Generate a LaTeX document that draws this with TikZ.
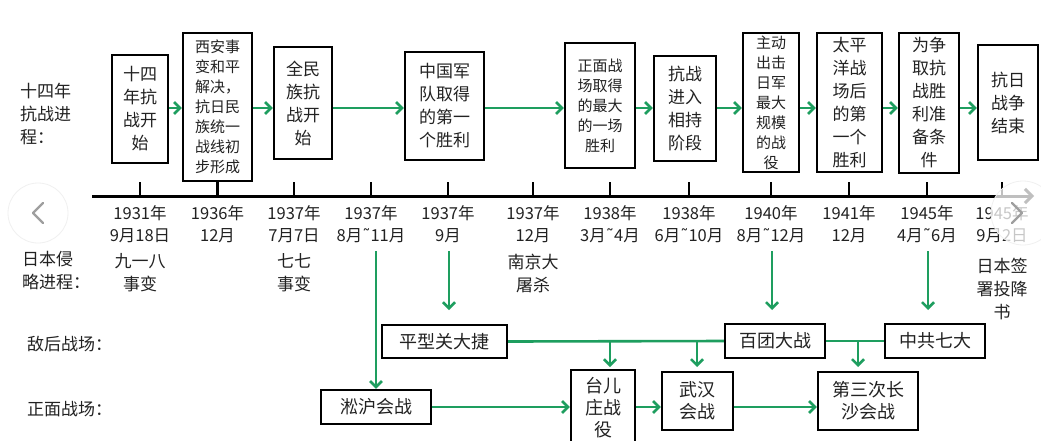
\documentclass[tikz,border=0pt]{standalone}
\usepackage{fontspec}
\setmainfont{Noto Sans CJK SC}
\newfontfamily\djvfont{DejaVu Sans}
\newcommand\mytld{{\djvfont ˜}}
\usetikzlibrary{arrows.meta}
\definecolor{gr}{RGB}{30,158,95}
\definecolor{ink}{RGB}{34,34,34}
\begin{document}
\begin{tikzpicture}[x=1pt,y=-1pt,
  box/.style={draw=black, line width=2.2pt, fill=white, align=center, inner sep=0pt, text=ink, font=\fontsize{17}{23}\selectfont},
  sbox/.style={box, font=\fontsize{15}{20}\selectfont},
  garrow/.style={draw=gr, line width=2.6pt, -{Straight Barb[length=6pt,width=12pt]}},
  gline/.style={draw=gr, line width=2.6pt},
  lbl/.style={text=ink, font=\fontsize{17}{23}\selectfont, align=left, inner sep=0pt},
  evt/.style={lbl, align=center},
  date/.style={text=ink, font=\fontsize{16.5}{22}\selectfont, align=center, inner sep=0pt},
  tick/.style={draw=black, line width=2.4pt},
  ovl/.style={fill=white, fill opacity=0.75, draw=gray!12, line width=0.8pt},
  chev/.style={draw=gray!75, line width=2.4pt, line cap=round, line join=round}
]
\useasboundingbox (0,0) rectangle (1041,440);
\clip (0,0) rectangle (1041,440);
\fill[white] (0,0) rectangle (1041,440);

% left labels
\node[lbl, anchor=west] (L1) at (20,114) {十四年\\抗战进\\程：};
\node[lbl, anchor=west] (L2) at (22,271) {日本侵\\略进程：};
\node[lbl, anchor=west] (L3) at (27,344) {敌后战场：};
\node[lbl, anchor=west] (L4) at (27,409) {正面战场：};

% top boxes
\node[box, minimum width=56, minimum height=108] (b1) at (140,109) {十四\\年抗\\战开\\始};
\node[sbox, minimum width=69, minimum height=148] (b2) at (217.5,107) {西安事\\变和平\\解决，\\抗日民\\族统一\\战线初\\步形成};
\node[box, minimum width=58, minimum height=112] (b3) at (303,103) {全民\\族抗\\战开\\始};
\node[box, minimum width=79, minimum height=108] (b4) at (444.5,106) {中国军\\队取得\\的第一\\个胜利};
\node[sbox, minimum width=70, minimum height=125] (b5) at (600,105.5) {正面战\\场取得\\的最大\\的一场\\胜利};
\node[box, minimum width=62, minimum height=105] (b6) at (685,108.5) {抗战\\进入\\相持\\阶段};
\node[sbox, minimum width=56, minimum height=139] (b7) at (771,102.5) {主动\\出击\\日军\\最大\\规模\\的战\\役};
\node[box, minimum width=65, minimum height=139] (b8) at (849.5,102.5) {太平\\洋战\\场后\\的第\\一个\\胜利};
\node[box, minimum width=60, minimum height=140] (b9) at (929,103) {为争\\取抗\\战胜\\利准\\备条\\件};
\node[box, minimum width=60, minimum height=115] (b10) at (1008,102.5) {抗日\\战争\\结束};

\coordinate (ay) at (0,108);
\foreach \a/\b in {b1/b2,b2/b3,b3/b4,b4/b5,b5/b6,b6/b7,b7/b8,b8/b9,b9/b10}
  \draw[garrow] (\a.east |- ay) -- (\b.west |- ay);

% timeline
\coordinate (tlA) at (92,196);
\coordinate (tlB) at (1034,196);
\draw[line width=3pt, -{Straight Barb[length=7pt,width=14pt]}] (tlA) -- (tlB);
\foreach \i/\x in {1/140,3/294,4/371,5/448,6/533,7/610,8/689,9/771,10/849,11/927,12/1002}
  \coordinate (t\i) at (\x,196);
\coordinate (t2) at (217.5,196);
\foreach \i in {1,3,4,5,6,7,8,9,10,11,12}
  \draw[tick] (t\i) -- ++(0,-14);
\draw[tick] (b2.south) -- (t2);

% dates
\node[date] (d1) at (140,224) {1931年\\9月18日};
\node[date] (d2) at (217.5,224) {1936年\\12月};
\node[date] (d3) at (294,224) {1937年\\7月7日};
\node[date] (d4) at (371,224) {1937年\\8月\mytld 11月};
\node[date] (d5) at (448,224) {1937年\\9月};
\node[date] (d6) at (533,224) {1937年\\12月};
\node[date] (d7) at (610,224) {1938年\\3月\mytld 4月};
\node[date] (d8) at (689,224) {1938年\\6月\mytld 10月};
\node[date] (d9) at (771,224) {1940年\\8月\mytld 12月};
\node[date] (d10) at (849,224) {1941年\\12月};
\node[date] (d11) at (927,224) {1945年\\4月\mytld 6月};
\node[date] (d12) at (1002,224) {1945年\\9月2日};

% aggression events
\node[evt] (e1) at (140,273) {九一八\\事变};
\node[evt] (e2) at (294,273) {七七\\事变};
\node[evt] (e3) at (533,273) {南京大\\屠杀};
\node[evt] (e4) at (1002,289) {日本签\\署投降\\书};

% battle boxes
\node[box, font=\fontsize{18}{23}\selectfont, minimum width=125, minimum height=33] (pxg) at (444.5,341.5) {平型关大捷};
\node[box, font=\fontsize{18}{23}\selectfont, minimum width=100, minimum height=34] (bt) at (775,341) {百团大战};
\node[box, font=\fontsize{18}{23}\selectfont, minimum width=100, minimum height=34] (zg) at (935,341) {中共七大};
\node[box, font=\fontsize{18}{23}\selectfont, minimum width=110, minimum height=34] (sh) at (376,407) {淞沪会战};
\node[box, font=\fontsize{18}{22}\selectfont, minimum width=64, minimum height=76] (te) at (603,408) {台儿\\庄战\\役};
\node[box, font=\fontsize{18}{22}\selectfont, minimum width=71, minimum height=58] (wh) at (697.5,401) {武汉\\会战};
\node[box, font=\fontsize{18}{22}\selectfont, minimum width=100, minimum height=58] (cs) at (868,401) {第三次长\\沙会战};

% vertical green arrows from timeline
\coordinate (v1s) at (376,251);
\draw[garrow] (v1s) -- (sh.north);
\coordinate (v2s) at (449,251); \coordinate (v2e) at (449,310);
\draw[garrow] (v2s) -- (v2e);
\coordinate (v3s) at (772,251); \coordinate (v3e) at (772,310);
\draw[garrow] (v3s) -- (v3e);
\coordinate (v4s) at (928,251); \coordinate (v4e) at (928,310);
\draw[garrow] (v4s) -- (v4e);

% enemy-rear line
\draw[gline] (pxg.east) -- (bt.west);
\draw[gline] (bt.east) -- (zg.west);
\foreach \n/\x in {s1/610,s2/697,s3/858}{
  \coordinate (\n s) at (\x,342);
  \coordinate (\n e) at (\x,367);
  \draw[garrow] (\n s) -- (\n e);
}

% front line
\coordinate (fy) at (0,407);
\draw[garrow] (sh.east) -- (sh.east -| te.west);
\draw[garrow] (te.east |- fy) -- (wh.west |- fy);
\draw[garrow] (wh.east |- fy) -- (cs.west |- fy);

% overlay UI
\draw[ovl] (38,213) circle (30);
\draw[chev] (43,203) -- (33,213) -- (43,223);
\draw[ovl] (1023,213) circle (32);
\draw[chev] (1012,203) -- (1022,213) -- (1012,223);
\end{tikzpicture}
\end{document}
